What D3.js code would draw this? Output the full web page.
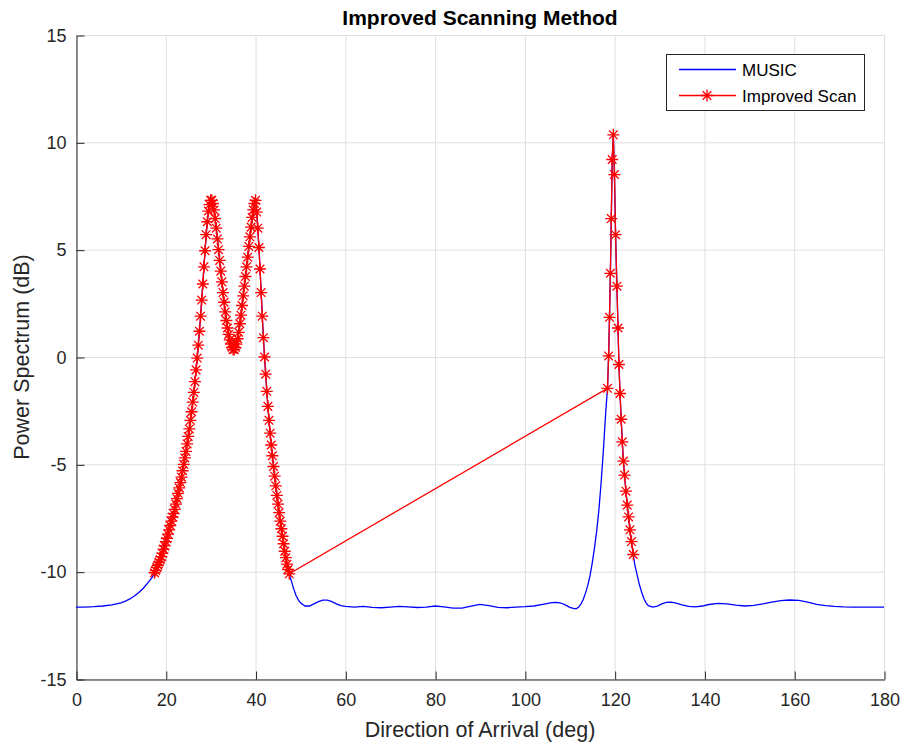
<!DOCTYPE html>
<html>
<head>
<meta charset="utf-8">
<script src="https://cdn.jsdelivr.net/npm/d3@7"></script>
<style>
    body { margin: 0; background: #fff; }
    svg text { font-family: "Liberation Sans", Arial, sans-serif; fill: #262626; }
</style>
</head>
<body>
<div id="chart"></div>
<script>
// improved scan, first cluster (17.5 .. 47.5 deg)
const scanAngles1 = [
    17.5, 17.75, 18, 18.25, 18.5, 18.75, 19, 19.25,
    19.5, 19.75, 20, 20.25, 20.5, 20.75, 21, 21.25,
    21.5, 21.75, 22, 22.25, 22.5, 22.75, 23, 23.25,
    23.5, 23.75, 24, 24.25, 24.5, 24.75, 25, 25.25,
    25.5, 25.75, 26, 26.25, 26.5, 26.75, 27, 27.25,
    27.5, 27.75, 28, 28.25, 28.5, 28.75, 29, 29.25,
    29.5, 29.75, 30, 30.25, 30.5, 30.75, 31, 31.25,
    31.5, 31.75, 32, 32.25, 32.5, 32.75, 33, 33.25,
    33.5, 33.75, 34, 34.25, 34.5, 34.75, 35, 35.25,
    35.5, 35.75, 36, 36.25, 36.5, 36.75, 37, 37.25,
    37.5, 37.75, 38, 38.25, 38.5, 38.75, 39, 39.25,
    39.5, 39.75, 40, 40.25, 40.5, 40.75, 41, 41.25,
    41.5, 41.75, 42, 42.25, 42.5, 42.75, 43, 43.25,
    43.5, 43.75, 44, 44.25, 44.5, 44.75, 45, 45.25,
    45.5, 45.75, 46, 46.25, 46.5, 46.75, 47, 47.25,
    47.5
];
const scanValues1 = [
    -10.05, -9.95, -9.8, -9.7, -9.55, -9.45, -9.3, -9.15,
    -8.95, -8.8, -8.6, -8.45, -8.25, -8.05, -7.85, -7.65,
    -7.45, -7.3, -7.1, -6.85, -6.6, -6.35, -6.1, -5.85,
    -5.6, -5.3, -5.0, -4.7, -4.4, -4.05, -3.7, -3.35,
    -2.95, -2.55, -2.1, -1.65, -1.15, -0.6, -0.05, 0.55,
    1.2, 1.9, 2.65, 3.4, 4.2, 4.95, 5.7, 6.3,
    6.8, 7.1, 7.3, 7.3, 7.15, 6.85, 6.45, 6.0,
    5.5, 5.0, 4.5, 4.0, 3.5, 3.0, 2.55, 2.1,
    1.7, 1.35, 1.05, 0.8, 0.6, 0.45, 0.35, 0.35,
    0.45, 0.6, 0.85, 1.15, 1.55, 1.95, 2.4, 2.85,
    3.3, 3.75, 4.2, 4.65, 5.15, 5.6, 6.05, 6.5,
    6.85, 7.15, 7.3, 6.75, 6.0, 5.1, 4.1, 3.0,
    1.9, 0.9, 0.0, -0.8, -1.6, -2.3, -2.95, -3.55,
    -4.1, -4.6, -5.1, -5.55, -6.0, -6.45, -6.85, -7.25,
    -7.65, -8.0, -8.35, -8.7, -9.05, -9.35, -9.65, -9.9,
    -10.1
];

// improved scan, second cluster (around 120 deg)
const scanAngles2 = [118.4, 118.65, 118.85, 119.05, 119.25, 119.45, 119.7, 119.95,
    120.2, 120.5, 120.75, 120.95, 121.2, 121.45, 121.7, 121.95, 122.2, 122.5,
    122.8, 123.1, 123.4, 123.75, 124.15];
const scanValues2 = [-1.46, 0.05, 1.85, 3.9, 6.45, 9.2, 10.35, 8.5,
    5.7, 3.3, 1.35, -0.35, -1.7, -2.9, -3.95, -4.85, -5.5, -6.25,
    -6.9, -7.45, -8.05, -8.6, -9.2];

// MUSIC spectrum outside the scanned clusters
const musicAnglesLeft = [0, 2, 4, 6, 8, 10, 11, 12, 13, 14, 15, 16, 17];
const musicValuesLeft = [-11.65, -11.65, -11.63, -11.6, -11.55, -11.45, -11.37, -11.27,
    -11.13, -10.97, -10.77, -10.52, -10.25];

const musicAnglesMid = [48, 48.5, 49, 49.5, 50, 51, 52, 53, 54, 55, 56, 57, 58, 59, 60,
    62, 64, 66, 68, 70, 72, 74, 76, 78, 80, 82, 84, 86, 88, 90, 92, 94, 96, 98, 100,
    102, 104, 106, 107, 108, 109, 110, 111, 111.5, 112, 112.5, 113, 113.5, 114, 114.5,
    115, 115.5, 116, 116.5, 117, 117.5, 118];
const musicValuesMid = [-10.45, -10.8, -11.1, -11.3, -11.45, -11.6, -11.6, -11.5, -11.4,
    -11.33, -11.33, -11.4, -11.5, -11.58, -11.62,
    -11.65, -11.62, -11.66, -11.68, -11.65, -11.62, -11.64, -11.67, -11.65, -11.6,
    -11.64, -11.7, -11.7, -11.6, -11.52, -11.58, -11.66, -11.68, -11.65, -11.63,
    -11.6, -11.52, -11.44, -11.43, -11.46, -11.55, -11.66, -11.72, -11.72, -11.65,
    -11.5, -11.3, -11.0, -10.65, -10.2, -9.6, -8.9, -8.1, -7.1, -5.8, -4.3, -2.6];

const musicAnglesRight = [124.5, 125, 125.5, 126, 126.5, 127, 127.5, 128.5, 129.5, 130.5,
    131.5, 132.5, 133.5, 135, 136.5, 138, 139.5, 141, 143, 145, 147, 149, 151, 153, 155,
    157, 159, 161, 163, 165, 167, 169, 171, 173, 176, 180];
const musicValuesRight = [-9.7, -10.15, -10.6, -10.95, -11.25, -11.45, -11.58, -11.65,
    -11.6, -11.5, -11.43, -11.42, -11.45, -11.55, -11.62, -11.64, -11.6, -11.53,
    -11.48, -11.5, -11.56, -11.6, -11.57, -11.5, -11.42, -11.35, -11.32, -11.34,
    -11.42, -11.52, -11.58, -11.62, -11.64, -11.65, -11.65, -11.65];

const xTicks = [0, 20, 40, 60, 80, 100, 120, 140, 160, 180];
const yTicks = [-15, -10, -5, 0, 5, 10, 15];
const seriesNames = ['MUSIC', 'Improved Scan'];
const seriesColors = ['#0000ff', '#ff0000'];

const width = 902, height = 744;
const margin = {top: 35, right: 18, bottom: 65, left: 76};
const innerW = width - margin.left - margin.right;
const innerH = height - margin.top - margin.bottom;

const pair = (angles, values) => angles.map((a, i) => [a, values[i]]);
const scanPoints = pair(scanAngles1, scanValues1).concat(pair(scanAngles2, scanValues2));
const musicPoints = pair(musicAnglesLeft, musicValuesLeft)
    .concat(pair(scanAngles1, scanValues1))
    .concat(pair(musicAnglesMid, musicValuesMid))
    .concat(pair(scanAngles2, scanValues2))
    .concat(pair(musicAnglesRight, musicValuesRight));

const x = d3.scaleLinear().domain([0, 180]).range([0, innerW]);
const y = d3.scaleLinear().domain([-15, 15]).range([innerH, 0]);

const svg = d3.select('#chart')
    .append('svg')
    .attr('width', width)
    .attr('height', height);

const g = svg.append('g')
    .attr('transform', `translate(${margin.left},${margin.top})`);

// grid
g.selectAll('.grid-x')
    .data(xTicks)
    .join('line')
    .attr('x1', d => x(d) + 0.5)
    .attr('x2', d => x(d) + 0.5)
    .attr('y1', 0)
    .attr('y2', innerH)
    .attr('stroke', '#dfdfdf')
    .attr('stroke-width', 1)
    .classed('grid-x', true);

g.selectAll('.grid-y')
    .data(yTicks)
    .join('line')
    .attr('x1', 0)
    .attr('x2', innerW)
    .attr('y1', d => y(d) + 0.5)
    .attr('y2', d => y(d) + 0.5)
    .attr('stroke', '#dfdfdf')
    .attr('stroke-width', 1)
    .classed('grid-y', true);

// axes (ticks point inward, plain hyphen for negatives)
const xAxis = g.append('g')
    .attr('transform', `translate(0.5,${innerH + 0.5})`)
    .call(d3.axisBottom(x).tickValues(xTicks).tickFormat(d => String(d))
        .tickSizeInner(-8).tickSizeOuter(0).tickPadding(14));
const yAxis = g.append('g')
    .attr('transform', 'translate(0.5,0.5)')
    .call(d3.axisLeft(y).tickValues(yTicks).tickFormat(d => String(d))
        .tickSizeInner(-8).tickSizeOuter(0).tickPadding(10));

[xAxis, yAxis].forEach(ax => {
    ax.select('.domain').attr('stroke', '#262626');
    ax.selectAll('.tick line').attr('stroke', '#262626');
    ax.selectAll('.tick text')
        .style('font-family', '"Liberation Sans", Arial, sans-serif')
        .style('font-size', '18px')
        .attr('fill', '#262626');
});

// lines
const line = d3.line().x(d => x(d[0])).y(d => y(d[1]));

g.append('path')
    .datum(musicPoints)
    .attr('d', line)
    .attr('fill', 'none')
    .attr('stroke', seriesColors[0])
    .attr('stroke-width', 1.3);

g.append('path')
    .datum(scanPoints)
    .attr('d', line)
    .attr('fill', 'none')
    .attr('stroke', seriesColors[1])
    .attr('stroke-width', 1.3);

const star = 'M-6,0H6M0,-6V6M-4.3,-4.3L4.3,4.3M-4.3,4.3L4.3,-4.3';
g.selectAll('.marker')
    .data(scanPoints)
    .join('path')
    .attr('d', star)
    .attr('transform', d => `translate(${x(d[0])},${y(d[1])})`)
    .attr('fill', 'none')
    .attr('stroke', seriesColors[1])
    .attr('stroke-width', 1.3)
    .classed('marker', true);

// title and labels
svg.append('text')
    .attr('x', margin.left + innerW / 2)
    .attr('y', 25)
    .attr('text-anchor', 'middle')
    .style('font-size', '21px')
    .style('font-weight', 'bold')
    .style('fill', '#000')
    .text('Improved Scanning Method');

svg.append('text')
    .attr('x', margin.left + innerW / 2)
    .attr('y', 737)
    .attr('text-anchor', 'middle')
    .style('font-size', '21.5px')
    .text('Direction of Arrival (deg)');

svg.append('text')
    .attr('transform', `translate(29,${margin.top + innerH / 2}) rotate(-90)`)
    .attr('text-anchor', 'middle')
    .style('font-size', '21.5px')
    .text('Power Spectrum (dB)');

// legend
const legend = svg.append('g').attr('transform', 'translate(666,54)');
legend.append('rect')
    .attr('x', 0.5).attr('y', 0.5)
    .attr('width', 198).attr('height', 56)
    .attr('fill', '#fff')
    .attr('stroke', '#262626')
    .attr('stroke-width', 1);

const legendItems = seriesNames.map((name, i) => ({name: name, color: seriesColors[i], marker: i === 1}));
const rows = legend.selectAll('.legend-row')
    .data(legendItems)
    .join('g')
    .attr('transform', (d, i) => `translate(0,${15.5 + i * 26})`)
    .classed('legend-row', true);

rows.append('line')
    .attr('x1', 13).attr('x2', 70)
    .style('stroke', d => d.color)
    .attr('stroke-width', 1.3);

rows.filter(d => d.marker)
    .append('path')
    .attr('d', star)
    .attr('transform', 'translate(41,0)')
    .attr('fill', 'none')
    .style('stroke', d => d.color)
    .attr('stroke-width', 1.3);

rows.append('text')
    .attr('x', 76)
    .attr('y', 6)
    .style('font-size', '17px')
    .style('fill', '#000')
    .text(d => d.name);
</script>
</body>
</html>
